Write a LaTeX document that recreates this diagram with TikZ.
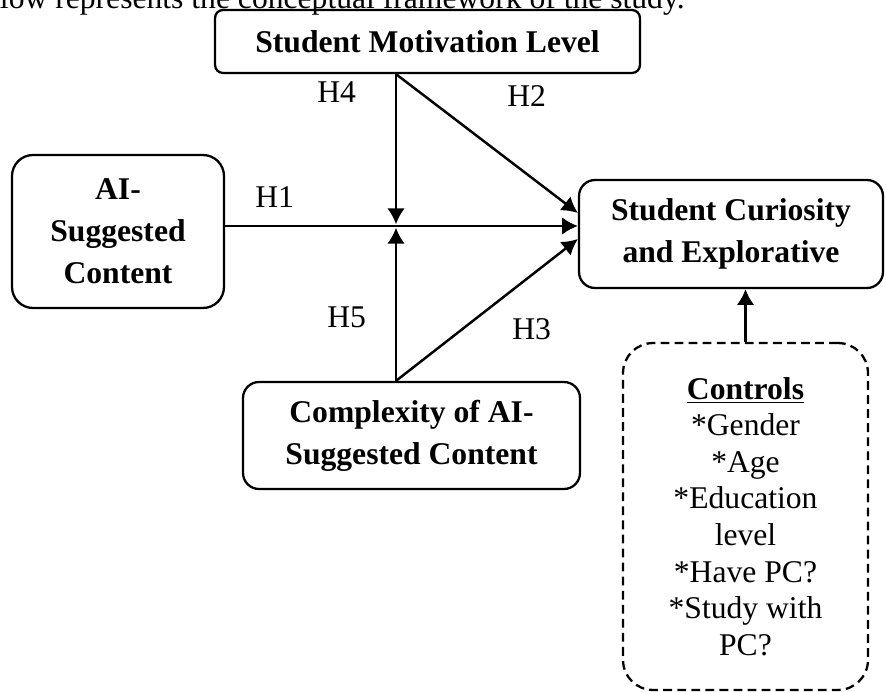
\documentclass[tikz,border=0pt]{standalone}
\usepackage{fontspec}
\setmainfont{Liberation Serif}
\usetikzlibrary{arrows.meta}

\begin{document}
\begin{tikzpicture}[x=0.02cm,y=-0.02cm,
        box/.style={draw,line width=1.3pt,rounded corners=#1,inner sep=0pt,align=center,
            font=\fontsize{18}{24}\selectfont\bfseries},
        hyp/.style={anchor=base west,inner sep=0pt,font=\fontsize{18}{21}\selectfont},
        link/.style={line width=1.4pt,-{Latex[length=9pt,width=10pt]}}]
    \useasboundingbox (0,0) rectangle (886,692);
    \begin{scope}
        \clip (0,0) rectangle (886,692);
        \node[anchor=base east,inner sep=0pt,font=\fontsize{18}{21}\selectfont] (intro) at (685,9) {low represents the conceptual framework of the study.};
    \end{scope}
    \node[box=0.16cm,minimum width=8.5cm,minimum height=1.26cm] (mot) at (427.5,41.5) {Student Motivation Level};
    \node[box=0.42cm,minimum width=4.24cm,minimum height=3.06cm] (ai) at (118,231.5) {AI-\\Suggested\\Content};
    \node[box=0.32cm,minimum width=6.08cm,minimum height=2.16cm] (cur) at (731,234) {Student Curiosity\\and Explorative};
    \node[box=0.32cm,minimum width=6.74cm,minimum height=2.14cm] (cmp) at (411.5,435.5) {Complexity of AI-\\Suggested Content};
    \node[box=0.6cm,dashed,dash pattern=on 5pt off 3pt,minimum width=4.9cm,minimum height=6.94cm,
        font=\fontsize{18}{20.8}\selectfont] (ctl) at (745.5,516.5)
        {\underline{\textbf{Controls}}\\{}*Gender\\{}*Age\\{}*Education\\level\\{}*Have PC?\\{}*Study with\\PC?};
    \coordinate (mid) at (396,226);
    \coordinate (hit) at (cur.west |- mid);
    \draw[link] (ai.east |- mid) -- (hit);
    \draw[link] (mot.south -| mid) -- ([yshift=1pt]mid);
    \draw[link] (cmp.north -| mid) -- ([yshift=-1pt]mid);
    \draw[link] (mot.south -| mid) -- ([yshift=0.26cm]hit);
    \draw[link] (cmp.north -| mid) -- ([yshift=-0.26cm]hit);
    \draw[link] (ctl.north) -- (ctl.north |- cur.south);
    \node[hyp] (h1) at (255,208) {H1};
    \node[hyp] (h2) at (507,107) {H2};
    \node[hyp] (h3) at (512,340) {H3};
    \node[hyp] (h4) at (317,103) {H4};
    \node[hyp] (h5) at (327,328) {H5};
\end{tikzpicture}
\end{document}
